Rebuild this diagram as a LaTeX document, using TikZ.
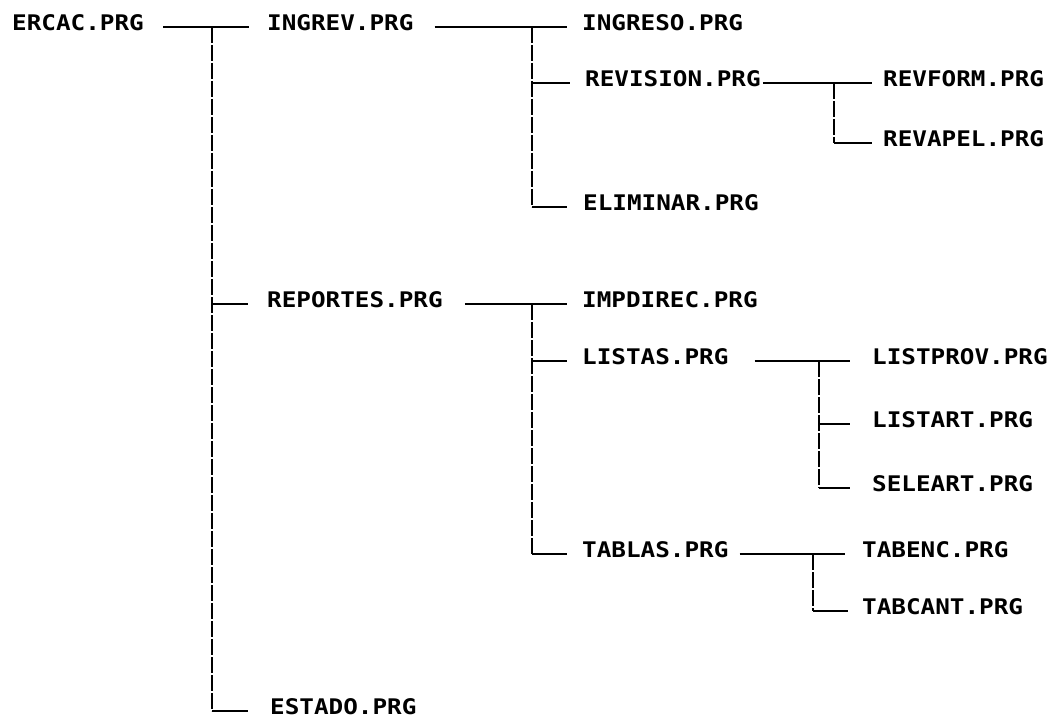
\documentclass[tikz,border=0pt]{standalone}
\usepackage{fontspec}
\newfontfamily\lblfamily{DejaVu Sans Mono Bold}[FakeStretch=1.13]
\newcommand{\lblfont}{\lblfamily\fontsize{21.5}{22}\selectfont}
\begin{document}
\begin{tikzpicture}[x=1pt,y=-1pt,
  lbl/.style={anchor=west, inner sep=0pt, font=\lblfont},
  hl/.style={line width=1.9pt},
  vl/.style={line width=1.9pt, dash pattern=on 16pt off 2pt}]
\useasboundingbox[fill=white] (0,0) rectangle (1056,719);
% nodes
\node[lbl] (ercac)    at (12,23)  {ERCAC.PRG};
\node[lbl] (ingrev)   at (267,23) {INGREV.PRG};
\node[lbl] (ingreso)  at (582,23) {INGRESO.PRG};
\node[lbl] (revision) at (585,79) {REVISION.PRG};
\node[lbl] (revform)  at (883,79) {REVFORM.PRG};
\node[lbl] (revapel)  at (883,139) {REVAPEL.PRG};
\node[lbl] (eliminar) at (583,203) {ELIMINAR.PRG};
\node[lbl] (reportes) at (267,300) {REPORTES.PRG};
\node[lbl] (impdirec) at (582,300) {IMPDIREC.PRG};
\node[lbl] (listas)   at (582,357) {LISTAS.PRG};
\node[lbl] (listprov) at (872,357) {LISTPROV.PRG};
\node[lbl] (listart)  at (872,420) {LISTART.PRG};
\node[lbl] (seleart)  at (872,484) {SELEART.PRG};
\node[lbl] (tablas)   at (582,550) {TABLAS.PRG};
\node[lbl] (tabenc)   at (862,550) {TABENC.PRG};
\node[lbl] (tabcant)  at (862,607) {TABCANT.PRG};
\node[lbl] (estado)   at (270,707) {ESTADO.PRG};
% line end points
\foreach \n/\g in {ingrev/18,ingreso/15,revform/11,revapel/11,eliminar/16,reportes/19,
  impdirec/15,listas/15,listprov/22,listart/22,seleart/22,tablas/15,tabenc/17,tabcant/14,estado/22}
  \coordinate (\n-l) at ([xshift=-\g pt,yshift=-4pt]\n.west);
\foreach \n/\g in {ercac/19,ingrev/21,revision/2,reportes/22,listas/26,tablas/11}
  \coordinate (\n-r) at ([xshift=\g pt,yshift=-4pt]\n.east);
% junctions
\coordinate (j0) at (212,27);
\coordinate (j1) at (532,27);
\coordinate (j2) at (834,83);
\coordinate (j3) at (532,304);
\coordinate (j4) at (819,361);
\coordinate (j5) at (813,554);
% parent lines
\draw[hl] (ercac-r) -- (ingrev-l);
\draw[hl] (ingrev-r) -- (ingreso-l);
\draw[hl] (revision-r) -- (revform-l);
\draw[hl] (reportes-r) -- (impdirec-l);
\draw[hl] (listas-r) -- (listprov-l);
\draw[hl] (tablas-r) -- (tabenc-l);
% verticals
\draw[vl] (j0) -- (j0 |- estado-l);
\draw[vl] (j1) -- (j1 |- eliminar-l);
\draw[vl] (j2) -- (j2 |- revapel-l);
\draw[vl] (j3) -- (j3 |- tablas-l);
\draw[vl] (j4) -- (j4 |- seleart-l);
\draw[vl] (j5) -- (j5 |- tabcant-l);
% branches
\coordinate (revision-l) at ([xshift=-15pt,yshift=-4pt]revision.west);
\draw[hl] (j0 |- reportes-l) -- (reportes-l);
\draw[hl] (j0 |- estado-l) -- (estado-l);
\draw[hl] (j1 |- revision-l) -- (revision-l);
\draw[hl] (j1 |- eliminar-l) -- (eliminar-l);
\draw[hl] (j2 |- revapel-l) -- (revapel-l);
\draw[hl] (j3 |- listas-l) -- (listas-l);
\draw[hl] (j3 |- tablas-l) -- (tablas-l);
\draw[hl] (j4 |- listart-l) -- (listart-l);
\draw[hl] (j4 |- seleart-l) -- (seleart-l);
\draw[hl] (j5 |- tabcant-l) -- (tabcant-l);
\end{tikzpicture}
\end{document}
